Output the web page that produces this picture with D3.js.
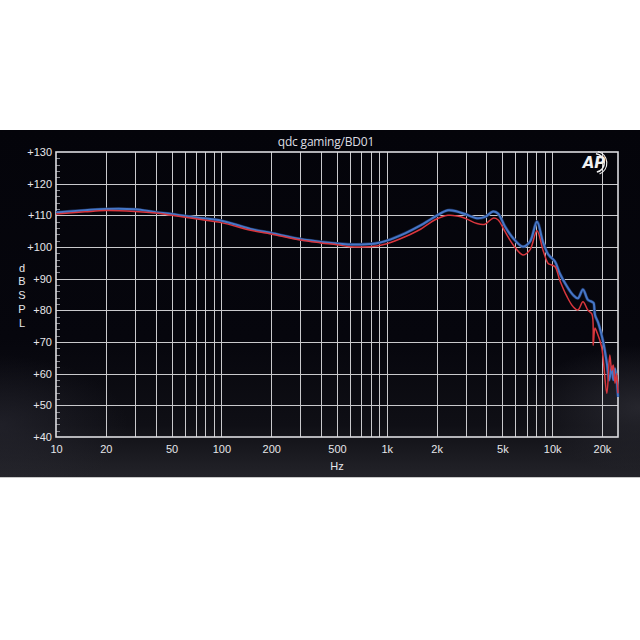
<!DOCTYPE html>
<html>
<head>
<meta charset="utf-8">
<script src="https://cdn.jsdelivr.net/npm/d3@7"></script>
<style>
  html, body { margin: 0; padding: 0; background: #ffffff; }
  svg { display: block; }
</style>
</head>
<body>
<svg id="chart" width="640" height="640"></svg>
<script>
// ---- data ----
const chartTitle = "qdc gaming/BD01";
const yTicks = [40, 50, 60, 70, 80, 90, 100, 110, 120, 130];
const xTickValues = [10, 20, 50, 100, 200, 500, 1000, 2000, 5000, 10000, 20000];
const xTickLabels = ["10", "20", "50", "100", "200", "500", "1k", "2k", "5k", "10k", "20k"];
const gridFreqs = [20, 30, 40, 50, 60, 70, 80, 90, 100, 200, 300, 400, 500, 600, 700, 800, 900,
  1000, 2000, 3000, 4000, 5000, 6000, 7000, 8000, 9000, 10000, 20000];

const freqBlue = [10, 15, 20, 30, 40, 50, 70, 100, 150, 200, 300, 400, 500, 600, 700, 870, 1000,
  1300, 1600, 1750, 1960, 2340, 2660, 2970, 3510, 3920, 4390, 4700, 5180, 5800, 6660, 7340, 8090,
  8800, 9430, 9700, 10400, 11100, 12300, 13400, 14300, 15350, 16450, 17400, 17800, 18150, 19000,
  20400, 21400, 22100, 22900, 23400, 24000, 25000];
const dbBlue = [110.9, 111.6, 112.0, 111.9, 111.0, 110.4, 109.3, 108.3, 105.7, 104.4, 102.5, 101.6,
  101.1, 100.8, 100.8, 101.2, 102.0, 104.4, 106.8, 108.0, 109.6, 111.6, 111.2, 110.4, 109.1, 109.5,
  111.2, 110.6, 106.5, 102.8, 100.1, 101.7, 108.0, 101.5, 97.8, 97.0, 95.4, 91.7, 87.5, 84.8, 83.8,
  86.6, 83.3, 82.7, 82.3, 78.5, 76.0, 69.7, 63.3, 57.9, 62.2, 58.0, 61.6, 52.7];

const freqRed = [10, 15, 20, 30, 40, 50, 70, 100, 150, 200, 300, 400, 500, 600, 700, 870, 1000,
  1300, 1600, 1750, 1960, 2340, 2660, 2970, 3510, 3920, 4390, 4700, 5180, 5800, 6660, 7340, 8090,
  8800, 9430, 9700, 10400, 11100, 12300, 13400, 14300, 15350, 16450, 17400, 17700, 18150, 18600,
  19900, 21400, 22300, 22900, 23400, 24000, 24500, 25000];
const dbRed = [110.4, 111.1, 111.5, 111.2, 110.7, 110.0, 108.9, 107.7, 105.3, 104.1, 102.2, 101.3,
  100.7, 100.1, 100.0, 100.3, 101.0, 103.3, 105.6, 107.0, 108.6, 110.0, 109.8, 109.1, 107.4, 107.2,
  109.1, 108.6, 104.9, 100.7, 97.5, 99.1, 105.1, 99.0, 94.9, 94.5, 93.8, 89.6, 84.3, 81.1, 80.1,
  82.7, 80.0, 78.8, 69.0, 74.4, 73.2, 68.5, 53.8, 65.9, 61.0, 62.7, 57.0, 60.0, 53.8];

// ---- layout ----
const svg = d3.select("#chart");
const panelTop = 130, panelBottom = 477;
const L = 56, R = 618, T = 152, B = 437;

const x = d3.scaleLog().domain([10, 25000]).range([L, R]);
const y = d3.scaleLinear().domain([40, 130]).range([B, T]);

// background
const defs = svg.append("defs");
const lg = defs.append("linearGradient").attr("id", "bg").attr("x1", 0).attr("y1", 0).attr("x2", 0).attr("y2", 1);
lg.append("stop").attr("offset", "0%").attr("stop-color", "#04040a");
lg.append("stop").attr("offset", "60%").attr("stop-color", "#06060d");
lg.append("stop").attr("offset", "85%").attr("stop-color", "#0f0f15");
lg.append("stop").attr("offset", "100%").attr("stop-color", "#232329");
const rg = defs.append("radialGradient").attr("id", "rglow").attr("cx", "100%").attr("cy", "80%").attr("r", "18%");
rg.append("stop").attr("offset", "0%").attr("stop-color", "#3a3a42").attr("stop-opacity", 0.55);
rg.append("stop").attr("offset", "100%").attr("stop-color", "#3a3a42").attr("stop-opacity", 0);
const rg2 = defs.append("radialGradient").attr("id", "lglow").attr("cx", "0%").attr("cy", "85%").attr("r", "20%");
rg2.append("stop").attr("offset", "0%").attr("stop-color", "#30303a").attr("stop-opacity", 0.5);
rg2.append("stop").attr("offset", "100%").attr("stop-color", "#30303a").attr("stop-opacity", 0);

svg.append("rect").attr("x", 0).attr("y", panelTop).attr("width", 640).attr("height", panelBottom - panelTop).attr("fill", "url(#bg)");
svg.append("rect").attr("x", 0).attr("y", panelTop).attr("width", 640).attr("height", panelBottom - panelTop).attr("fill", "url(#rglow)");
svg.append("rect").attr("x", 0).attr("y", panelTop).attr("width", 640).attr("height", panelBottom - panelTop).attr("fill", "url(#lglow)");
svg.append("line").attr("x1", 0).attr("x2", 640).attr("y1", panelBottom + 0.5).attr("y2", panelBottom + 0.5).attr("stroke", "#c8c8c8");

// grid
const gridColor = "#c9c9cc";
svg.append("g").selectAll("line").data(gridFreqs).join("line")
  .attr("x1", d => Math.round(x(d)) + 0.5).attr("x2", d => Math.round(x(d)) + 0.5)
  .attr("y1", T).attr("y2", B)
  .attr("stroke", gridColor).attr("stroke-width", 1);
svg.append("g").selectAll("line").data(yTicks.filter(d => d > 40 && d < 130)).join("line")
  .attr("x1", L).attr("x2", R)
  .attr("y1", d => Math.round(y(d)) + 0.5).attr("y2", d => Math.round(y(d)) + 0.5)
  .attr("stroke", gridColor).attr("stroke-width", 1);

// minor ticks
const minor = d3.range(42, 130, 2).filter(d => d % 10 !== 0);
svg.append("g").selectAll("line").data(minor).join("line")
  .attr("x1", L).attr("x2", L + 4)
  .attr("y1", d => Math.round(y(d)) + 0.5).attr("y2", d => Math.round(y(d)) + 0.5)
  .attr("stroke", "#8a8a90").attr("stroke-width", 1);

// frame
svg.append("rect").attr("x", L).attr("y", T).attr("width", R - L).attr("height", B - T)
  .attr("fill", "none").attr("stroke", "#dcdce0").attr("stroke-width", 1.6);

// axes labels
const fontFam = "'Liberation Sans', Arial, sans-serif";
const yAxis = svg.append("g").attr("transform", `translate(${L},0)`)
  .call(d3.axisLeft(y).tickValues(yTicks).tickSize(0).tickPadding(4).tickFormat(d => "+" + d));
yAxis.select(".domain").remove();
yAxis.selectAll("text").attr("fill", "#e6e6ea").attr("font-size", 11).attr("font-family", fontFam);

const xAxis = svg.append("g").attr("transform", `translate(0,${B})`)
  .call(d3.axisBottom(x).tickValues(xTickValues).tickSize(0).tickPadding(8)
    .tickFormat((d, i) => xTickLabels[i]));
xAxis.select(".domain").remove();
xAxis.selectAll("text").attr("fill", "#e6e6ea").attr("font-size", 11).attr("font-family", fontFam);

svg.append("text").attr("x", (L + R) / 2).attr("y", 470).attr("text-anchor", "middle")
  .attr("fill", "#e6e6ea").attr("font-size", 11).attr("font-family", fontFam).text("Hz");

const yl = svg.append("text").attr("x", 22).attr("y", 271.5).attr("text-anchor", "middle")
  .attr("fill", "#e6e6ea").attr("font-size", 11).attr("font-family", fontFam);
"dBSPL".split("").forEach((c, i) => {
  yl.append("tspan").attr("x", 22).attr("dy", i === 0 ? 0 : 13.8).text(c);
});

// title
svg.append("text").attr("x", 326).attr("y", 145.5).attr("text-anchor", "middle")
  .attr("fill", "#dedee2").attr("font-size", 12).attr("font-family", "'Open Sans', 'Noto Sans', sans-serif")
  .attr("letter-spacing", -0.2)
  .text(chartTitle);

// AP logo
const logo = svg.append("g").attr("transform", "translate(595,163)");
logo.append("text").attr("x", -1).attr("y", 5).attr("text-anchor", "middle")
  .attr("font-size", 15).attr("font-style", "italic").attr("font-weight", "bold")
  .attr("font-family", "'DejaVu Sans', sans-serif").attr("fill", "#f0f0f0").text("AP");
logo.append("path").attr("d", d3.arc()({innerRadius: 8.5, outerRadius: 10, startAngle: 0.1, endAngle: Math.PI - 0.2}))
  .attr("fill", "#f0f0f0");
logo.append("path").attr("d", d3.arc()({innerRadius: 11.2, outerRadius: 12.4, startAngle: 0.25, endAngle: Math.PI - 0.4}))
  .attr("fill", "#f0f0f0");

// curves
const line = d3.line().x(d => x(d[0])).y(d => y(d[1])).curve(d3.curveCatmullRom.alpha(0.5));
const blue = freqBlue.map((f, i) => [f, dbBlue[i]]);
const red = freqRed.map((f, i) => [f, dbRed[i]]);

svg.append("path").datum(blue).attr("d", line).attr("fill", "none")
  .attr("stroke", "#1b2f5a").attr("stroke-width", 3.2).attr("stroke-linejoin", "round");
svg.append("path").datum(blue).attr("d", line).attr("fill", "none")
  .attr("stroke", "#4676c6").attr("stroke-width", 2.0).attr("stroke-linejoin", "round");
svg.append("path").datum(red).attr("d", line).attr("fill", "none")
  .attr("stroke", "#d8363d").attr("stroke-width", 1.5).attr("stroke-linejoin", "round");
</script>
</body>
</html>
